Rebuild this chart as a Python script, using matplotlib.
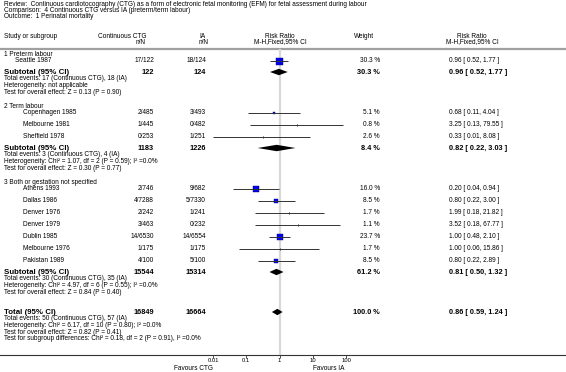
import matplotlib
matplotlib.use("Agg")
import matplotlib.pyplot as plt
import numpy as np

plt.rcParams['font.family'] = ['Liberation Sans', 'DejaVu Sans']

# ---- data ----
title_lines = [
    "Review:  Continuous cardiotocography (CTG) as a form of electronic fetal monitoring (EFM) for fetal assessment during labour",
    "Comparison:  4 Continuous CTG versus IA (preterm/term labour)",
    "Outcome:  1 Perinatal mortality",
]
group_names = ["1 Preterm labour", "2 Term labour", "3 Both or gestation not specified"]

studies = ["Seattle 1987", "Copenhagen 1985", "Melbourne 1981", "Sheffield 1978",
           "Athens 1993", "Dallas 1986", "Denver 1976", "Denver 1979",
           "Dublin 1985", "Melbourne 1976", "Pakistan 1989"]
ctg_events = [17, 2, 1, 0, 2, 4, 2, 3, 14, 1, 4]
ctg_total = [122, 485, 445, 253, 746, 7288, 242, 463, 6530, 175, 100]
ia_events = [18, 3, 0, 1, 9, 5, 1, 0, 14, 1, 5]
ia_total = [124, 493, 482, 251, 682, 7330, 241, 232, 6554, 175, 100]
weights = [30.3, 5.1, 0.8, 2.6, 16.0, 8.5, 1.7, 1.1, 23.7, 1.7, 8.5]
rr = [0.96, 0.68, 3.25, 0.33, 0.20, 0.80, 1.99, 3.52, 1.00, 1.00, 0.80]
rr_lo = [0.52, 0.11, 0.13, 0.01, 0.04, 0.22, 0.18, 0.18, 0.48, 0.06, 0.22]
rr_hi = [1.77, 4.04, 79.55, 8.08, 0.94, 3.00, 21.82, 67.77, 2.10, 15.86, 2.89]

# subtotals (3 groups) + overall total
sub_labels = ["Subtotal (95% CI)", "Subtotal (95% CI)", "Subtotal (95% CI)", "Total (95% CI)"]
sub_ctg_n = [122, 1183, 15544, 16849]
sub_ia_n = [124, 1226, 15314, 16664]
sub_weight = [30.3, 8.4, 61.2, 100.0]
sub_rr = [0.96, 0.82, 0.81, 0.86]
sub_lo = [0.52, 0.22, 0.50, 0.59]
sub_hi = [1.77, 3.03, 1.32, 1.24]
sub_info = [
    ["Total events: 17 (Continuous CTG), 18 (IA)",
     "Heterogeneity: not applicable",
     "Test for overall effect: Z = 0.13 (P = 0.90)"],
    ["Total events: 3 (Continuous CTG), 4 (IA)",
     "Heterogeneity: Chi\u00b2 = 1.07, df = 2 (P = 0.59); I\u00b2 =0.0%",
     "Test for overall effect: Z = 0.30 (P = 0.77)"],
    ["Total events: 30 (Continuous CTG), 35 (IA)",
     "Heterogeneity: Chi\u00b2 = 4.97, df = 6 (P = 0.55); I\u00b2 =0.0%",
     "Test for overall effect: Z = 0.84 (P = 0.40)"],
    ["Total events: 50 (Continuous CTG), 57 (IA)",
     "Heterogeneity: Chi\u00b2 = 6.17, df = 10 (P = 0.80); I\u00b2 =0.0%",
     "Test for overall effect: Z = 0.82 (P = 0.41)",
     "Test for subgroup differences: Chi\u00b2 = 0.18, df = 2 (P = 0.91), I\u00b2 =0.0%"],
]
tick_vals = [0.01, 0.1, 1, 10, 100]
tick_labels = ["0.01", "0.1", "1", "10", "100"]

# ---- layout (pixel rows) ----
W, H = 566, 372
study_y = [61, 113, 125, 137, 189, 201, 213, 225, 237, 249, 261]
group_y = [55, 106, 183]
sub_y = [72, 148, 272, 312]
info_step = 6.6
x_name = 4
x_study = [15, 23, 23, 23, 23, 23, 23, 23, 23, 23, 23]
x_ctg = 154
x_ia = 206
x_wt = 380
x_ci = 449
fs = 4.7
fsb = 5.3
fsl = 5.7

fig = plt.figure(figsize=(W / 100, H / 100), dpi=100)
bg = fig.add_axes([0, 0, 1, 1])
bg.set_xlim(0, W)
bg.set_ylim(H, 0)
bg.axis('off')

for i, t in enumerate(title_lines):
    bg.text(4, 4 + 6 * i, t, fontsize=fs, va='center', ha='left')

# header
bg.text(x_name, 36, "Study or subgroup", fontsize=fs, va='center')
bg.text(x_ctg - 8, 36, "Continuous CTG", fontsize=fs, va='center', ha='right')
bg.text(x_ctg - 8, 42, "n/N", fontsize=fs, va='center', ha='right')
bg.text(x_ia - 7, 36, "IA", fontsize=fs, va='center', ha='left')
bg.text(x_ia - 7, 42, "n/N", fontsize=fs, va='center', ha='left')
bg.text(280, 36, "Risk Ratio", fontsize=fs, va='center', ha='center')
bg.text(280, 42, "M-H,Fixed,95% CI", fontsize=fs, va='center', ha='center')
bg.text(354, 36, "Weight", fontsize=fs, va='center', ha='left')
bg.text(472, 36, "Risk Ratio", fontsize=fs, va='center', ha='center')
bg.text(472, 42, "M-H,Fixed,95% CI", fontsize=fs, va='center', ha='center')
bg.plot([0, W], [49, 49], color='#a0a0a0', lw=1.6)
bg.plot([0, W], [355, 355], color='#333333', lw=0.8)

for g, y in zip(group_names, group_y):
    bg.text(x_name, y, g, fontsize=fs, va='center')

for i, name in enumerate(studies):
    y = study_y[i]
    bg.text(x_study[i], y, name, fontsize=fs, va='center')
    bg.text(x_ctg, y, f"{ctg_events[i]}/{ctg_total[i]}", fontsize=fs, va='center', ha='right')
    bg.text(x_ia, y, f"{ia_events[i]}/{ia_total[i]}", fontsize=fs, va='center', ha='right')
    bg.text(x_wt, y, f"{weights[i]:.1f} %", fontsize=fs, va='center', ha='right')
    bg.text(x_ci, y, f"{rr[i]:.2f} [ {rr_lo[i]:.2f}, {rr_hi[i]:.2f} ]", fontsize=fs, va='center')

for k, y in enumerate(sub_y):
    bg.text(x_name, y, sub_labels[k], fontsize=fsl, va='center', fontweight='bold')
    bg.text(x_ctg, y, str(sub_ctg_n[k]), fontsize=fsb, va='center', ha='right', fontweight='bold')
    bg.text(x_ia, y, str(sub_ia_n[k]), fontsize=fsb, va='center', ha='right', fontweight='bold')
    bg.text(x_wt, y, f"{sub_weight[k]:.1f} %", fontsize=fsb, va='center', ha='right', fontweight='bold')
    bg.text(x_ci, y, f"{sub_rr[k]:.2f} [ {sub_lo[k]:.2f}, {sub_hi[k]:.2f} ]", fontsize=fsb,
            va='center', fontweight='bold')
    for j, line in enumerate(sub_info[k]):
        bg.text(x_name, y + 7 + info_step * j, line, fontsize=fs, va='center')

bg.text(213, 369, "Favours CTG", fontsize=fs, va='center', ha='right')
bg.text(313, 369, "Favours IA", fontsize=fs, va='center', ha='left')

# ---- forest panel ----
x0, x1, ytop, ybot = 213, 346, 49, 355
ax = fig.add_axes([x0 / W, (H - ybot) / H, (x1 - x0) / W, (ybot - ytop) / H])
ax.set_xscale('log')
ax.set_xlim(0.01, 100)
ax.set_ylim(ybot, ytop)
ax.patch.set_visible(False)
for s in ax.spines.values():
    s.set_visible(False)
ax.set_yticks([])
ax.set_xticks(tick_vals)
ax.set_xticklabels(tick_labels)
ax.minorticks_off()
ax.tick_params(axis='x', direction='out', length=1.8, width=0.6, pad=0.6,
               labelsize=4.2, color='#333333')
ax.axvline(1, color='#d8d8d8', lw=1.6, zorder=0)

for i in range(len(studies)):
    y = study_y[i]
    size_px = 7.0 * np.sqrt(weights[i] / 30.3)
    if weights[i] >= 4:
        ax.plot(rr[i], y, marker='s', ms=size_px * 0.72, mfc='#0000ee', mec='#000080',
                mew=0.3, zorder=3, clip_on=False)
    else:
        ax.plot([rr[i], rr[i]], [y - 1.4, y + 1.4], color='#777777', lw=0.6, zorder=3)
    ax.plot([rr_lo[i], rr_hi[i]], [y, y], color='#333333', lw=0.7, zorder=4,
            solid_capstyle='butt', clip_on=False)

for k, y in enumerate(sub_y):
    h = 3.2
    ax.fill([sub_lo[k], sub_rr[k], sub_hi[k], sub_rr[k]], [y, y - h, y, y + h],
            color='black', lw=0, zorder=3)

fig.savefig("out.png", dpi=100)
